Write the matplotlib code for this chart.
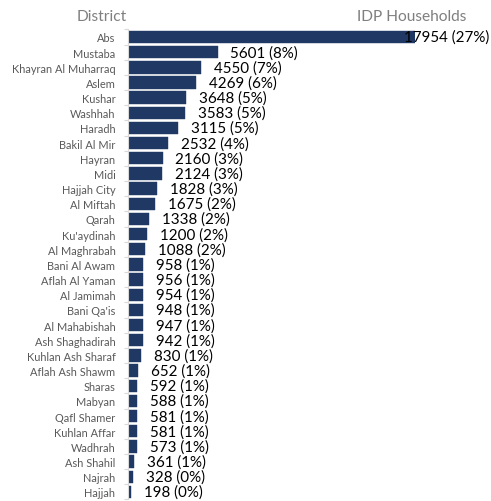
import numpy as np
import matplotlib.pyplot as plt
from matplotlib.ticker import FixedLocator
from matplotlib.transforms import blended_transform_factory

districts = ['Abs', 'Mustaba', 'Khayran Al Muharraq', 'Aslem', 'Kushar', 'Washhah',
             'Haradh', 'Bakil Al Mir', 'Hayran', 'Midi', 'Hajjah City', 'Al Miftah',
             'Qarah', "Ku'aydinah", 'Al Maghrabah', 'Bani Al Awam', 'Aflah Al Yaman',
             'Al Jamimah', "Bani Qa'is", 'Al Mahabishah', 'Ash Shaghadirah',
             'Kuhlan Ash Sharaf', 'Aflah Ash Shawm', 'Sharas', 'Mabyan', 'Qafl Shamer',
             'Kuhlan Affar', 'Wadhrah', 'Ash Shahil', 'Najrah', 'Hajjah']
households = [17954, 5601, 4550, 4269, 3648, 3583, 3115, 2532, 2160, 2124, 1828, 1675,
              1338, 1200, 1088, 958, 956, 954, 948, 947, 942, 830, 652, 592, 588, 581,
              581, 573, 361, 328, 198]
percents = [27, 8, 7, 6, 5, 5, 5, 4, 3, 3, 3, 2, 2, 2, 2, 1, 1, 1, 1, 1, 1, 1, 1, 1,
            1, 1, 1, 1, 1, 0, 0]

plt.rcParams['font.family'] = ['Lato', 'DejaVu Sans']

fig = plt.figure(figsize=(4.91, 5.02), dpi=100)
ax = fig.add_axes([128 / 491, 0.003, (415 - 128) / 491, 0.9365])

y = np.arange(len(districts))
ax.barh(y, households, height=0.82, color='#1f3864', edgecolor='#1f3864', linewidth=0.3)

ax.set_ylim(len(districts) - 0.5, -0.5)
ax.set_xlim(0, max(households))

ax.set_yticks(y)
ax.set_yticklabels(districts, fontsize=7.9, color='#595959')
ax.tick_params(axis='y', which='major', length=0, pad=9)
ax.yaxis.set_minor_locator(FixedLocator(np.arange(-0.5, len(districts), 1.0)))
ax.tick_params(axis='y', which='minor', length=3, color='#d9d9d9', width=0.8)
ax.set_xticks([])

for s in ['top', 'right', 'bottom']:
    ax.spines[s].set_visible(False)
ax.spines['left'].set_color('#d9d9d9')
ax.spines['left'].set_linewidth(0.8)

xmax = max(households)
edge = blended_transform_factory(fig.transFigure, ax.transData)
for i, (v, p) in enumerate(zip(households, percents)):
    txt = f'{v} ({p}%)'
    if v > 0.9 * xmax:
        # label pushed back inside the chart area, as in the original
        ax.text(489 / 491, i, txt, va='center', ha='right', fontsize=10.9,
                color='black', transform=edge)
    else:
        ax.text(v + 0.045 * xmax, i, txt, va='center', ha='left', fontsize=10.9,
                color='black')

fig.text(102 / 491, 1 - 17 / 502, 'District', ha='center', va='center',
         fontsize=11.2, color='#7f7f7f')
fig.text(412 / 491, 1 - 17 / 502, 'IDP Households', ha='center', va='center',
         fontsize=11.2, color='#7f7f7f')

fig.savefig('out.png', dpi=100)
